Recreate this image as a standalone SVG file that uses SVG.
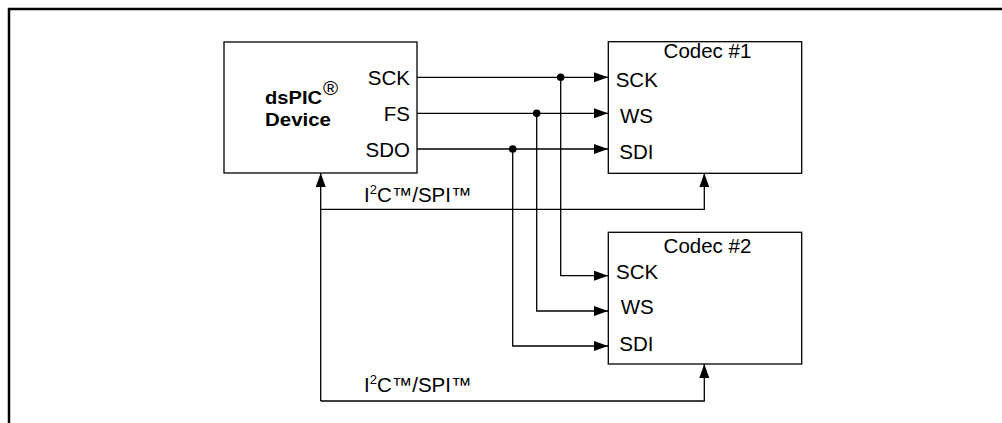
<svg xmlns="http://www.w3.org/2000/svg" width="1002" height="423" viewBox="0 0 1002 423">
<defs>
<style>
.box{fill:#fff;stroke:#000;stroke-width:1.3}
.ln{fill:none;stroke:#000;stroke-width:1.3}
.t{font-family:"Liberation Sans",Arial,sans-serif;font-size:20.5px;fill:#000}
.b{font-family:"Liberation Sans",Arial,sans-serif;font-size:18.5px;font-weight:bold;fill:#000}
</style>
<marker id="ah" markerUnits="userSpaceOnUse" markerWidth="14" markerHeight="10" refX="14" refY="5" orient="auto">
<path d="M0,0 L14,5 L0,10 Z" fill="#000"/>
</marker>
</defs>
<rect x="0" y="0" width="1002" height="423" fill="#fff"/>
<rect x="9" y="9" width="1010" height="440" fill="none" stroke="#000" stroke-width="2.5"/>
<g id="dspic">
<rect class="box" x="224" y="42" width="193" height="131"/>
<text class="b" x="265" y="104" textLength="57" lengthAdjust="spacingAndGlyphs">dsPIC</text>
<text class="t" x="323" y="95" font-size="11">®</text>
<text class="b" x="265" y="126" textLength="66" lengthAdjust="spacingAndGlyphs">Device</text>
<text class="t" x="410" y="85" text-anchor="end">SCK</text>
<text class="t" x="410" y="121" text-anchor="end">FS</text>
<text class="t" x="410" y="157" text-anchor="end">SDO</text>
</g>
<g id="codec1">
<rect class="box" x="608.3" y="41.7" width="193.4" height="131.6"/>
<text class="t" x="707.5" y="58.3" text-anchor="middle">Codec #1</text>
<text class="t" x="615.7" y="87.3">SCK</text>
<text class="t" x="620" y="122.7">WS</text>
<text class="t" x="619.3" y="159">SDI</text>
</g>
<g id="codec2">
<rect class="box" x="608.3" y="232.3" width="193.4" height="131.7"/>
<text class="t" x="707.5" y="253" text-anchor="middle">Codec #2</text>
<text class="t" x="616" y="279">SCK</text>
<text class="t" x="620.7" y="314.3">WS</text>
<text class="t" x="619.3" y="350.7">SDI</text>
</g>
<g id="connectors">
<path class="ln" d="M417,77.3 H608" marker-end="url(#ah)"/>
<path class="ln" d="M417,113.3 H608" marker-end="url(#ah)"/>
<path class="ln" d="M417,149 H608" marker-end="url(#ah)"/>
<path class="ln" d="M560.7,77.3 V275.7 H608" marker-end="url(#ah)"/>
<path class="ln" d="M536.7,113.3 V311 H608" marker-end="url(#ah)"/>
<path class="ln" d="M512.7,149 V346 H608" marker-end="url(#ah)"/>
<circle cx="560.7" cy="77.3" r="3.8"/>
<circle cx="536.7" cy="113.3" r="3.8"/>
<circle cx="512.7" cy="149" r="3.8"/>
<path class="ln" d="M320.7,401 V173" marker-end="url(#ah)"/>
<path class="ln" d="M320.7,209.3 H704.3 V173.3" marker-end="url(#ah)"/>
<path class="ln" d="M320.7,401 H704.3 V364" marker-end="url(#ah)"/>
<text class="t" x="364" y="201.7">I<tspan font-size="13" dy="-8">2</tspan><tspan dy="8">C™/SPI™</tspan></text>
<text class="t" x="364" y="391.7">I<tspan font-size="13" dy="-8">2</tspan><tspan dy="8">C™/SPI™</tspan></text>
</g>
</svg>
